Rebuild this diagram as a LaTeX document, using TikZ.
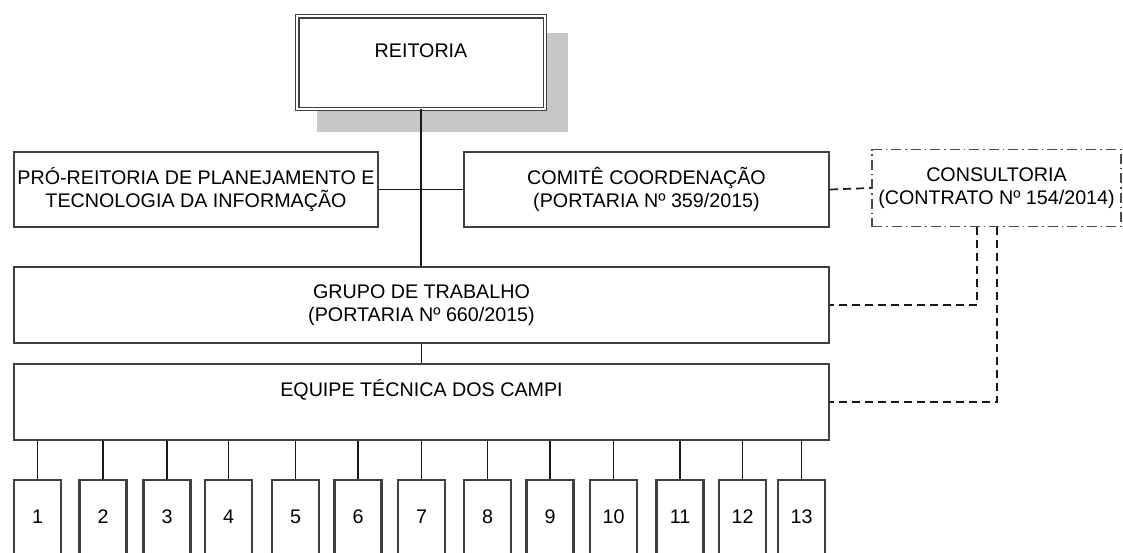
\documentclass[tikz,border=0pt]{standalone}
\usepackage{fontspec}
\setmainfont{Liberation Sans}

\begin{document}
\begin{tikzpicture}[x=1pt, y=-1pt,
 box/.style={draw=black!75, line width=2.2pt, fill=white, inner sep=0pt, align=center,
  font=\fontsize{19.7}{22.5}\selectfont},
 uptext/.style={text height=14pt, text depth=25pt},
 campus/.style={box, minimum width=47pt, minimum height=74pt},
 link/.style={line width=1.7pt, black!90},
 dlink/.style={link, dash pattern=on 8pt off 5pt}]
\useasboundingbox (0,0) rectangle (1123,552);
\clip (0,0) rectangle (1123,552);
%sombra da reitoria
\fill[black!22] (317,33) rectangle (568,132);
\node[box, double, line width=1.3pt, double distance=2pt, minimum width=247.6pt, minimum height=92.6pt, uptext] (reit) at (421,62.5) {REITORIA};
\node[box, minimum width=364pt, minimum height=75pt] (pro) at (196,189.5) {PRÓ-REITORIA DE PLANEJAMENTO E\\TECNOLOGIA DA INFORMAÇÃO};
\node[box, minimum width=365pt, minimum height=75pt] (comite) at (646.5,189.5) {COMITÊ COORDENAÇÃO\\(PORTARIA Nº 359/2015)};
\node[box, draw=black!70, line width=1.6pt, dash pattern=on 10pt off 4pt on 1.5pt off 4pt, minimum width=249pt, minimum height=77pt] (consult) at (996.5,188) {CONSULTORIA\\(CONTRATO Nº 154/2014)};
\node[box, minimum width=815pt, minimum height=76pt] (grupo) at (421.5,305) {GRUPO DE TRABALHO\\(PORTARIA Nº 660/2015)};
\node[box, minimum width=815pt, minimum height=76pt, uptext] (equipe) at (421.5,402) {EQUIPE TÉCNICA DOS CAMPI};
%campi
\foreach \n/\x in {1/37.5,2/103,3/167,4/228.5,5/295.5,6/358,7/421.5,8/487.5,9/550,10/613.5,11/680,12/742.5,13/801.5}
 \node[campus] (c\n) at (\x,517) {\n};

\draw[link] (reit.south) -- (reit.south |- grupo.north);
\draw[link] (pro.east) -- (comite.west);
\draw[link] (grupo.south) -- (equipe.north);
\foreach \n in {1,...,13}
 \draw[link] (c\n.north) -- (c\n.north |- equipe.south);
%ligacoes da consultoria
\draw[dlink] (comite.east) -- (consult.west);
\draw[dlink] ([xshift=-19.5pt]consult.south) |- (grupo.east);
\draw[dlink] ([xshift=0.5pt]consult.south) |- (equipe.east);
\end{tikzpicture}
\end{document}
